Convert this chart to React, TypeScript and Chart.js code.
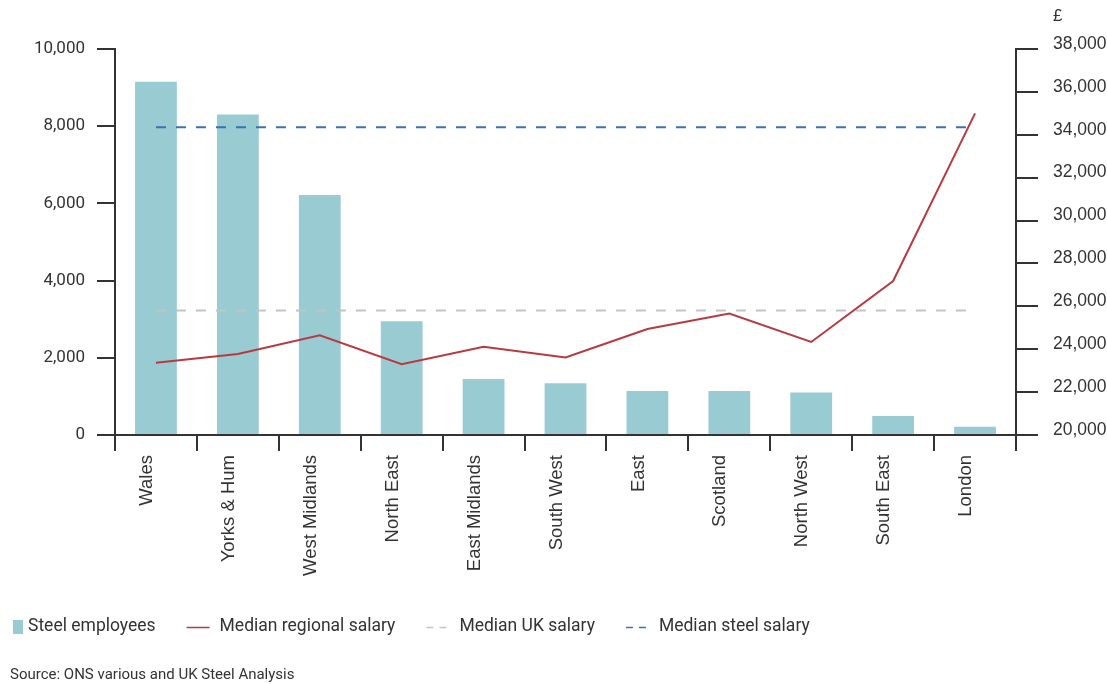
import React, { useEffect, useRef } from "react";
import { Chart, registerables } from "chart.js";

Chart.register(...registerables);

const categories = [
  "Wales",
  "Yorks & Hum",
  "West Midlands",
  "North East",
  "East Midlands",
  "South West",
  "East",
  "Scotland",
  "North West",
  "South East",
  "London",
];
const steelEmployees = [9150, 8300, 6220, 2950, 1450, 1340, 1140, 1140, 1100, 490, 215];
const medianRegionalSalary = [23370, 23780, 24650, 23300, 24120, 23620, 24940, 25660, 24340, 27180, 35000];
const medianUkSalary = [25800, 25800, 25800, 25800, 25800, 25800, 25800, 25800, 25800, 25800, 25800];
const medianSteelSalary = [34350, 34350, 34350, 34350, 34350, 34350, 34350, 34350, 34350, 34350, 34350];

const legendItems = [
  { label: "Steel employees", kind: "box", color: "#98CBD2" },
  { label: "Median regional salary", kind: "line", color: "#B83A40" },
  { label: "Median UK salary", kind: "dash", color: "#C4C4C4" },
  { label: "Median steel salary", kind: "dash", color: "#3B6FB6" },
];
const sourceText = "Source: ONS various and UK Steel Analysis";
const currencyLabel = "£";

const W = 1107;
const H = 684;
const AXIS = "#333333";
const TEXT = "#333333";

const fmt = (v: number) => Math.round(v).toLocaleString("en-US");

const overlayPlugin = {
  id: "overlay",
  afterDraw(chart: any) {
    const ctx = chart.ctx as CanvasRenderingContext2D;
    ctx.save();
    // currency label above right axis
    ctx.fillStyle = TEXT;
    ctx.font = "17px 'Liberation Sans', Arial, sans-serif";
    ctx.textAlign = "left";
    ctx.textBaseline = "middle";
    ctx.fillText(currencyLabel, chart.chartArea.right + 37, 16);

    // legend
    ctx.font = "17.5px Roboto, sans-serif";
    let x = 13;
    const y = 627;
    legendItems.forEach((it) => {
      if (it.kind === "box") {
        ctx.fillStyle = it.color;
        ctx.fillRect(x, y - 7, 10, 14);
        x += 15;
      } else {
        ctx.strokeStyle = it.color;
        ctx.lineWidth = 1.5;
        if (it.kind === "dash") ctx.setLineDash([7, 6]);
        else ctx.setLineDash([]);
        ctx.beginPath();
        ctx.moveTo(x, y + 0.5);
        ctx.lineTo(x + 23, y + 0.5);
        ctx.stroke();
        ctx.setLineDash([]);
        x += 33;
      }
      ctx.fillStyle = TEXT;
      ctx.textAlign = "left";
      ctx.textBaseline = "middle";
      ctx.fillText(it.label, x, y);
      x += ctx.measureText(it.label).width + 31;
    });

    // source
    ctx.font = "15px Roboto, sans-serif";
    ctx.fillStyle = TEXT;
    ctx.fillText(sourceText, 10, 675);
    ctx.restore();
  },
};

export default function App() {
  const ref = useRef<HTMLCanvasElement | null>(null);

  useEffect(() => {
    if (!ref.current) return;
    const chart = new Chart(ref.current, {
      type: "bar",
      data: {
        labels: categories,
        datasets: [
          {
            type: "line",
            label: "Median regional salary",
            data: medianRegionalSalary,
            yAxisID: "y1",
            borderColor: "#B83A40",
            borderWidth: 2,
            pointRadius: 0,
            tension: 0,
            order: 1,
          },
          {
            type: "line",
            label: "Median UK salary",
            data: medianUkSalary,
            yAxisID: "y1",
            borderColor: "#C4C4C4",
            borderWidth: 2,
            borderDash: [10, 10],
            pointRadius: 0,
            order: 2,
          },
          {
            type: "line",
            label: "Median steel salary",
            data: medianSteelSalary,
            yAxisID: "y1",
            borderColor: "#3B6FB6",
            borderWidth: 2,
            borderDash: [10, 10],
            pointRadius: 0,
            order: 3,
          },
          {
            type: "bar",
            label: "Steel employees",
            data: steelEmployees,
            yAxisID: "y",
            backgroundColor: "#98CBD2",
            barPercentage: 0.51,
            categoryPercentage: 1,
            order: 5,
          },
        ],
      },
      options: {
        responsive: false,
        animation: false,
        layout: { padding: { top: 49, left: 0, right: 0, bottom: 0 } },
        plugins: {
          legend: { display: false },
          tooltip: { enabled: false },
        },
        scales: {
          x: {
            offset: true,
            grid: {
              offset: true,
              drawOnChartArea: false,
              drawTicks: true,
              tickLength: 16,
              color: AXIS,
              lineWidth: 2,
            },
            border: { display: true, color: AXIS, width: 2 },
            ticks: {
              autoSkip: false,
              minRotation: 90,
              maxRotation: 90,
              labelOffset: -9,
              padding: 4,
              color: TEXT,
              font: { family: "'Liberation Sans', Arial, sans-serif", size: 18.5 },
            },
            afterFit: (s: any) => {
              s.height = H - 435;
            },
          },
          y: {
            position: "left",
            min: 0,
            max: 10000,
            ticks: {
              stepSize: 2000,
              padding: 12,
              color: TEXT,
              font: { family: "Roboto, sans-serif", size: 17 },
              callback: (v: any) => fmt(Number(v)),
            },
            grid: {
              drawOnChartArea: false,
              drawTicks: true,
              tickLength: 18,
              color: AXIS,
              lineWidth: 2,
            },
            border: { display: true, color: AXIS, width: 2 },
            afterFit: (s: any) => {
              s.width = 115;
            },
          },
          y1: {
            position: "right",
            min: 20000,
            max: 38000,
            ticks: {
              stepSize: 2000,
              padding: 15,
              labelOffset: -5,
              color: TEXT,
              font: { family: "'Liberation Sans', Arial, sans-serif", size: 17.5 },
              callback: (v: any) => fmt(Number(v)),
            },
            grid: {
              drawOnChartArea: false,
              drawTicks: true,
              tickLength: 22,
              color: AXIS,
              lineWidth: 2,
            },
            border: { display: true, color: AXIS, width: 2 },
            afterFit: (s: any) => {
              s.width = W - 1016;
            },
          },
        },
      },
      plugins: [overlayPlugin],
    } as any);
    return () => chart.destroy();
  }, []);

  return (
    <div style={{ position: "absolute", left: 0, top: 0, width: W, height: H, background: "#fff" }}>
      <canvas ref={ref} width={W} height={H} style={{ display: "block", width: W, height: H }} />
    </div>
  );
}
